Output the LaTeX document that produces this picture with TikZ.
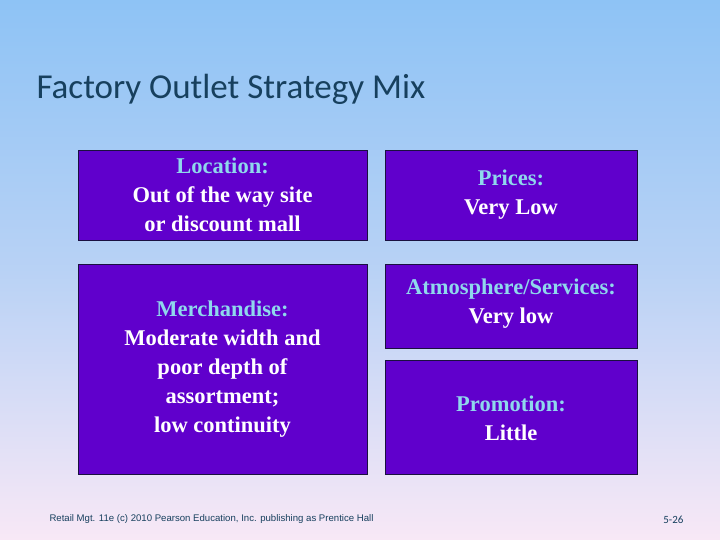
\documentclass[tikz,border=0pt]{standalone}
\usepackage{fontspec}
\setmainfont{Liberation Serif}
\newfontfamily\titlefont{Carlito}
\newfontfamily\footfont{Liberation Sans}
\definecolor{bgtop}{HTML}{8EC3F5}
\definecolor{bgbot}{HTML}{F8E8F6}
\definecolor{boxfill}{HTML}{6000CC}
\definecolor{boxline}{HTML}{1A1040}
\definecolor{lab}{HTML}{8FD8EC}
\definecolor{titlec}{HTML}{17405E}
\tikzset{
  mbox/.style={draw=boxline, line width=0.8pt, fill=boxfill},
  txt/.style={align=center, text=white, font=\bfseries\fontsize{22.5}{29}\selectfont},
}
\newcommand{\lbl}[1]{{\color{lab}#1}}
\begin{document}
\begin{tikzpicture}[x=1pt,y=1pt]
\shade[top color=bgtop, bottom color=bgbot, middle color=bgbot!40!bgtop] (0,0) rectangle (720,540);
\useasboundingbox (0,0) rectangle (720,540);
\node[anchor=west, text=titlec, font=\titlefont\fontsize{35}{40}\selectfont] (title) at (33,451) {Factory Outlet Strategy Mix};
\draw[mbox] (78,300) rectangle (367,390);
\draw[mbox] (385,300) rectangle (637,390);
\draw[mbox] (78,66) rectangle (367,276);
\draw[mbox] (385,192) rectangle (637,276);
\draw[mbox] (385,66) rectangle (637,180);
\node[txt] (loc) at (222.5,345) {\lbl{Location:}\\Out of the way site\\ or discount mall};
\node[txt] (pri) at (511,345) {\lbl{Prices:}\\Very Low};
\node[txt] (mer) at (222.5,171) {\lbl{Merchandise:}\\Moderate width and\\poor depth of\\assortment;\\low continuity};
\node[txt] (atm) at (511,236) {\lbl{Atmosphere/Services:}\\Very low};
\node[txt] (pro) at (511,122) {\lbl{Promotion:}\\Little};
\node[anchor=west, text=titlec, font=\footfont\fontsize{9.6}{11}\selectfont] (foot) at (46,21) {Retail Mgt. 11e (c) 2010 Pearson Education, Inc. publishing as Prentice Hall};
\node[anchor=east, text=titlec, font=\titlefont\fontsize{11}{12}\selectfont] (pg) at (687,20) {5-26};
\end{tikzpicture}
\end{document}
